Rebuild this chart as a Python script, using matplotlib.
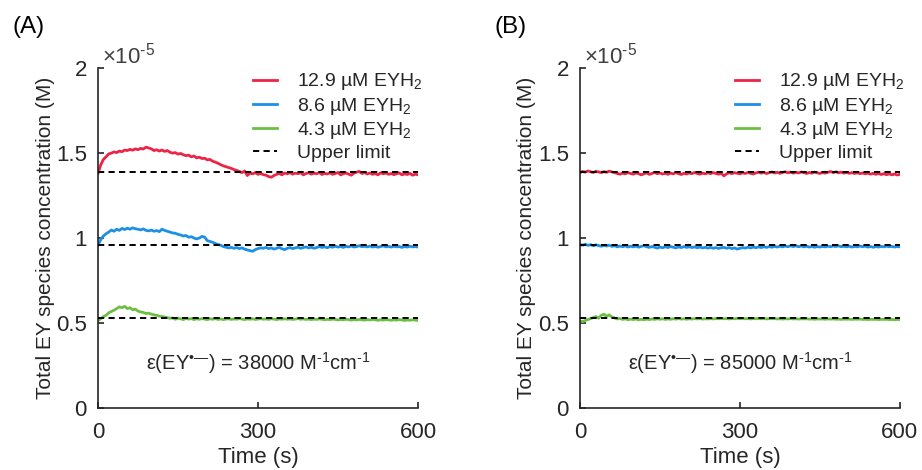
import numpy as np
import matplotlib
matplotlib.use('Agg')
import matplotlib.pyplot as plt

plt.rcParams['font.family'] = ['Liberation Sans', 'DejaVu Sans']
plt.rcParams['mathtext.fontset'] = 'custom'
plt.rcParams['mathtext.rm'] = 'Liberation Sans'
plt.rcParams['mathtext.it'] = 'Liberation Sans'
plt.rcParams['mathtext.default'] = 'regular'

# time axis, s (5 s sampling)
TIME = np.arange(0, 601, 5)

# total EY species, units of 1e-5 M
RED_A = [1.380, 1.430, 1.462, 1.478, 1.495, 1.500, 1.507, 1.503, 1.512, 1.508,
         1.518, 1.515, 1.522, 1.517, 1.525, 1.520, 1.528, 1.524, 1.535, 1.530,
         1.525, 1.515, 1.520, 1.512, 1.518, 1.510, 1.515, 1.505, 1.500, 1.503,
         1.494, 1.498, 1.490, 1.485, 1.488, 1.478, 1.483, 1.472, 1.476, 1.468,
         1.470, 1.460, 1.463, 1.452, 1.447, 1.440, 1.432, 1.425, 1.420, 1.415,
         1.410, 1.403, 1.398, 1.392, 1.385, 1.395, 1.368, 1.382, 1.378, 1.385,
         1.375, 1.380, 1.373, 1.370, 1.362, 1.358, 1.368, 1.375, 1.380, 1.372,
         1.383, 1.378, 1.385, 1.376, 1.382, 1.379, 1.385, 1.372, 1.380, 1.384,
         1.376, 1.382, 1.378, 1.386, 1.374, 1.381, 1.377, 1.384, 1.375, 1.380,
         1.386, 1.372, 1.378, 1.383, 1.376, 1.370, 1.382, 1.388, 1.392, 1.380,
         1.385, 1.377, 1.383, 1.375, 1.380, 1.372, 1.384, 1.378, 1.383, 1.375,
         1.380, 1.373, 1.379, 1.383, 1.372, 1.378, 1.374, 1.381, 1.370, 1.376,
         1.372]
BLUE_A = [0.958, 0.990, 1.012, 1.025, 1.035, 1.047, 1.040, 1.052, 1.045, 1.057,
          1.050, 1.058, 1.052, 1.060, 1.055, 1.052, 1.048, 1.054, 1.045, 1.042,
          1.047, 1.040, 1.044, 1.038, 1.052, 1.045, 1.040, 1.035, 1.030, 1.028,
          1.022, 1.018, 1.012, 1.015, 1.005, 1.008, 1.000, 0.995, 1.000, 1.010,
          1.005, 0.985, 0.980, 0.975, 0.968, 0.962, 0.958, 0.950, 0.946, 0.942,
          0.945, 0.940, 0.944, 0.938, 0.942, 0.935, 0.930, 0.926, 0.922, 0.932,
          0.938, 0.942, 0.940, 0.945, 0.938, 0.942, 0.935, 0.940, 0.945, 0.937,
          0.932, 0.940, 0.944, 0.938, 0.942, 0.946, 0.940, 0.944, 0.948, 0.942,
          0.946, 0.940, 0.944, 0.950, 0.945, 0.948, 0.943, 0.950, 0.946, 0.952,
          0.947, 0.950, 0.945, 0.951, 0.948, 0.953, 0.947, 0.950, 0.955, 0.949,
          0.952, 0.948, 0.953, 0.947, 0.951, 0.946, 0.950, 0.954, 0.948, 0.951,
          0.947, 0.952, 0.948, 0.950, 0.945, 0.950, 0.947, 0.952, 0.948, 0.950,
          0.947]
GREEN_A = [0.515, 0.525, 0.538, 0.545, 0.560, 0.568, 0.575, 0.585, 0.595, 0.590,
           0.598, 0.585, 0.590, 0.578, 0.582, 0.570, 0.565, 0.562, 0.556, 0.558,
           0.552, 0.548, 0.545, 0.540, 0.538, 0.535, 0.532, 0.528, 0.530, 0.522,
           0.528, 0.525, 0.520, 0.527, 0.523, 0.526, 0.520, 0.525, 0.522, 0.526,
           0.523, 0.520, 0.525, 0.522, 0.526, 0.521, 0.524, 0.520, 0.523, 0.525,
           0.521, 0.524, 0.522, 0.526, 0.523, 0.520, 0.524, 0.522, 0.525, 0.521,
           0.523, 0.526, 0.522, 0.524, 0.521, 0.525, 0.523, 0.520, 0.524, 0.522,
           0.525, 0.522, 0.524, 0.521, 0.523, 0.526, 0.522, 0.524, 0.521, 0.523,
           0.520, 0.523, 0.521, 0.524, 0.522, 0.519, 0.522, 0.520, 0.523, 0.521,
           0.518, 0.521, 0.519, 0.522, 0.520, 0.517, 0.520, 0.518, 0.521, 0.519,
           0.517, 0.520, 0.518, 0.521, 0.519, 0.516, 0.519, 0.517, 0.520, 0.518,
           0.516, 0.519, 0.517, 0.520, 0.518, 0.515, 0.518, 0.516, 0.519, 0.517,
           0.515]

RED_B = [1.385, 1.392, 1.388, 1.395, 1.390, 1.386, 1.393, 1.389, 1.385, 1.391,
         1.387, 1.394, 1.389, 1.385, 1.380, 1.376, 1.382, 1.378, 1.385, 1.380,
         1.376, 1.383, 1.379, 1.372, 1.378, 1.384, 1.375, 1.380, 1.386, 1.379,
         1.383, 1.377, 1.381, 1.375, 1.382, 1.378, 1.385, 1.379, 1.374, 1.381,
         1.377, 1.383, 1.379, 1.386, 1.380, 1.376, 1.382, 1.378, 1.384, 1.379,
         1.385, 1.380, 1.376, 1.381, 1.366, 1.378, 1.384, 1.379, 1.385, 1.381,
         1.378, 1.384, 1.380, 1.386, 1.381, 1.377, 1.383, 1.388, 1.382, 1.386,
         1.380, 1.385, 1.389, 1.383, 1.387, 1.381, 1.386, 1.390, 1.384, 1.388,
         1.382, 1.387, 1.383, 1.389, 1.385, 1.380, 1.386, 1.382, 1.388, 1.384,
         1.380, 1.386, 1.382, 1.387, 1.392, 1.385, 1.390, 1.384, 1.388, 1.382,
         1.386, 1.381, 1.385, 1.380, 1.384, 1.379, 1.383, 1.378, 1.382, 1.376,
         1.381, 1.375, 1.380, 1.374, 1.379, 1.373, 1.378, 1.372, 1.377, 1.371,
         1.375]
BLUE_B = [0.962, 0.958, 0.964, 0.957, 0.961, 0.955, 0.960, 0.956, 0.952, 0.957,
          0.953, 0.958, 0.951, 0.955, 0.948, 0.953, 0.949, 0.954, 0.947, 0.952,
          0.948, 0.953, 0.946, 0.951, 0.955, 0.949, 0.945, 0.950, 0.946, 0.941,
          0.947, 0.943, 0.949, 0.944, 0.950, 0.946, 0.942, 0.948, 0.944, 0.950,
          0.945, 0.949, 0.944, 0.948, 0.943, 0.947, 0.942, 0.946, 0.941, 0.945,
          0.940, 0.944, 0.939, 0.943, 0.945, 0.940, 0.944, 0.938, 0.942, 0.935,
          0.940, 0.944, 0.941, 0.946, 0.942, 0.947, 0.943, 0.948, 0.944, 0.949,
          0.945, 0.950, 0.946, 0.951, 0.947, 0.952, 0.948, 0.953, 0.949, 0.954,
          0.950, 0.954, 0.949, 0.953, 0.948, 0.952, 0.947, 0.951, 0.946, 0.950,
          0.947, 0.951, 0.948, 0.952, 0.949, 0.953, 0.950, 0.954, 0.949, 0.952,
          0.948, 0.952, 0.947, 0.951, 0.948, 0.953, 0.949, 0.952, 0.947, 0.950,
          0.946, 0.950, 0.947, 0.951, 0.948, 0.952, 0.949, 0.951, 0.947, 0.950,
          0.948]
GREEN_B = [0.512, 0.508, 0.515, 0.520, 0.526, 0.532, 0.538, 0.528, 0.545, 0.552,
           0.540, 0.548, 0.535, 0.530, 0.524, 0.527, 0.521, 0.525, 0.519, 0.523,
           0.520, 0.524, 0.518, 0.522, 0.519, 0.523, 0.520, 0.524, 0.521, 0.525,
           0.522, 0.525, 0.521, 0.524, 0.522, 0.525, 0.523, 0.526, 0.523, 0.525,
           0.522, 0.525, 0.523, 0.526, 0.524, 0.526, 0.523, 0.525, 0.524, 0.526,
           0.524, 0.526, 0.525, 0.527, 0.525, 0.526, 0.524, 0.526, 0.525, 0.527,
           0.525, 0.527, 0.525, 0.526, 0.524, 0.526, 0.525, 0.527, 0.525, 0.526,
           0.524, 0.526, 0.525, 0.526, 0.524, 0.525, 0.523, 0.525, 0.524, 0.526,
           0.524, 0.525, 0.523, 0.525, 0.524, 0.525, 0.523, 0.524, 0.522, 0.524,
           0.523, 0.524, 0.522, 0.524, 0.523, 0.524, 0.522, 0.523, 0.521, 0.523,
           0.522, 0.523, 0.521, 0.523, 0.522, 0.523, 0.521, 0.522, 0.520, 0.522,
           0.521, 0.522, 0.520, 0.522, 0.521, 0.522, 0.520, 0.521, 0.519, 0.521,
           0.520]

UPPER = [1.386, 0.958, 0.528]
LABELS = ['12.9 µM EYH$_2$', '8.6 µM EYH$_2$', '4.3 µM EYH$_2$']
COLORS = ['#EE2345', '#1C8FE6', '#6DBF44']
EPS = [38000, 85000]
PANELS = ['(A)', '(B)']

INK = '#262626'
fig = plt.figure(figsize=(9.22, 4.70), dpi=100)
lefts = [0.1063, 0.629]
series = [(RED_A, BLUE_A, GREEN_A), (RED_B, BLUE_B, GREEN_B)]

for k in range(2):
    ax = fig.add_axes([lefts[k], 0.132, 0.347, 0.723])
    for ys, c, lab in zip(series[k], COLORS, LABELS):
        ax.plot(TIME, ys, color=c, lw=2.0, label=lab, zorder=2)
    for i, u in enumerate(UPPER):
        ax.plot([0, 600], [u, u], color='black', lw=1.4, ls=(0, (3.2, 2.2)),
                zorder=3, label='Upper limit' if i == 0 else None)
    ax.set_xlim(0, 600)
    ax.set_ylim(0, 2)
    ax.set_xticks([0, 300, 600])
    ax.set_yticks([0, 0.5, 1, 1.5, 2])
    ax.set_yticklabels(['0', '0.5', '1', '1.5', '2'])
    for s in ('top', 'right'):
        ax.spines[s].set_visible(False)
    for s in ('left', 'bottom'):
        ax.spines[s].set_color(INK)
        ax.spines[s].set_linewidth(1.2)
    ax.tick_params(direction='in', length=4, width=1.2, colors=INK,
                   labelsize=16)
    ax.tick_params(axis='x', pad=10)
    ax.tick_params(axis='y', pad=8)
    ax.set_xlabel('Time (s)', fontsize=16, color=INK, labelpad=3)
    ax.set_ylabel('Total EY species concentration (M)', fontsize=15,
                  color=INK, labelpad=1)
    # exponent label above the y axis
    ax.text(0.012, 1.015, '×10$^{‐5}$', transform=ax.transAxes,
            fontsize=16, color='#404040', ha='left', va='baseline')
    ax.text(300, 0.265,
            f'ε(EY$^{{•—}}$) = {EPS[k]} M$^{{‐1}}$cm$^{{‐1}}$',
            fontsize=14.5, color=INK, ha='center', va='center')
    ax.legend(loc='upper right', bbox_to_anchor=(1.05, 1.025), frameon=False,
              fontsize=14, handlelength=1.25, handletextpad=1.0,
              labelspacing=0.17, borderaxespad=0.2, labelcolor=INK)
    fig.text(lefts[k] - 0.093, 0.966, PANELS[k], fontsize=17.5, color='black',
             ha='left', va='top')

fig.savefig('out.png', dpi=100)
